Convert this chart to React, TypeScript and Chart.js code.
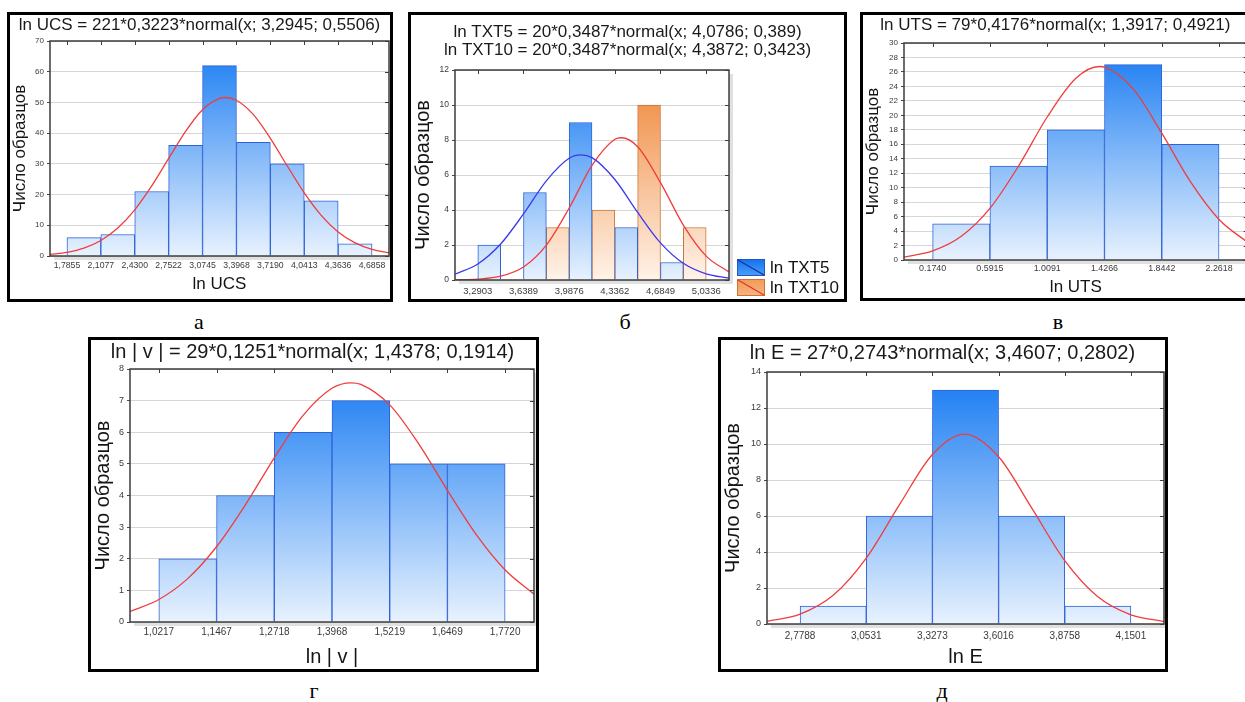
import React, { useEffect, useRef } from 'react';
import { Chart, registerables } from 'chart.js';

Chart.register(...registerables);

const SANS = "'Liberation Sans', Arial, sans-serif";
const SERIF = "'Liberation Serif', 'Times New Roman', serif";
Chart.defaults.font.family = SANS;
Chart.defaults.color = '#333';

const Y_TITLE = 'Число образцов';

// ---- Panel а : ln UCS ----
const UCS_TITLE = 'ln UCS = 221*0,3223*normal(x; 3,2945; 0,5506)';
const UCS_EDGES = [1.7855, 2.1077, 2.43, 2.7522, 3.0745, 3.3968, 3.719, 4.0413, 4.3636, 4.6858];
const UCS_TICK_LABELS = ['1,7855', '2,1077', '2,4300', '2,7522', '3,0745', '3,3968', '3,7190', '4,0413', '4,3636', '4,6858'];
const UCS_COUNTS = [6, 7, 21, 36, 62, 37, 30, 18, 4];
const UCS_CURVE_X = [1.624, 1.7855, 1.9466, 2.1077, 2.2689, 2.43, 2.5911, 2.7522, 2.9134, 3.0745, 3.2357, 3.2945, 3.3968, 3.5579, 3.719, 3.8802, 4.0413, 4.2025, 4.3636, 4.5247, 4.6858, 4.847];
const UCS_CURVE_Y = [0.52, 1.21, 2.58, 5.06, 9.1, 15.04, 22.81, 31.77, 40.61, 47.64, 51.3, 51.6, 50.72, 46.02, 38.33, 29.3, 20.57, 13.25, 7.83, 4.25, 2.12, 0.97];

// ---- Panel б : ln TXT5 / ln TXT10 ----
const TXT_TITLE = ['ln TXT5 = 20*0,3487*normal(x; 4,0786; 0,389)', 'ln TXT10 = 20*0,3487*normal(x; 4,3872; 0,3423)'];
const TXT_EDGES = [3.2903, 3.6389, 3.9876, 4.3362, 4.6849, 5.0336];
const TXT_TICK_LABELS = ['3,2903', '3,6389', '3,9876', '4,3362', '4,6849', '5,0336'];
const TXT_SERIES = ['ln TXT5', 'ln TXT10'];
const TXT5_COUNTS = [2, 5, 9, 3, 1];
const TXT10_COUNTS = [0, 3, 4, 10, 3];
const TXT5_CURVE_X = [3.1159, 3.2903, 3.4646, 3.6389, 3.8133, 3.9876, 4.0786, 4.1619, 4.3362, 4.5106, 4.6849, 4.8593, 5.0336, 5.2079];
const TXT5_CURVE_Y = [0.334, 0.918, 2.058, 3.776, 5.668, 6.959, 7.152, 6.99, 5.744, 3.861, 2.123, 0.954, 0.351, 0.106];
const TXT10_CURVE_X = [3.1159, 3.2903, 3.4646, 3.6389, 3.8133, 3.9876, 4.1619, 4.3362, 4.3872, 4.5106, 4.6849, 4.8593, 5.0336, 5.2079];
const TXT10_CURVE_Y = [0.008, 0.048, 0.215, 0.745, 1.993, 4.112, 6.545, 8.039, 8.128, 7.617, 5.568, 3.14, 1.366, 0.459];

// ---- Panel в : ln UTS ----
const UTS_TITLE = 'ln UTS = 79*0,4176*normal(x; 1,3917; 0,4921)';
const UTS_EDGES = [0.174, 0.5915, 1.0091, 1.4266, 1.8442, 2.2618];
const UTS_TICK_LABELS = ['0.1740', '0.5915', '1.0091', '1.4266', '1.8442', '2.2618'];
const UTS_COUNTS = [5, 13, 18, 27, 16];
const UTS_CURVE_X = [-0.0348, 0.174, 0.3828, 0.5915, 0.8003, 1.0091, 1.2179, 1.3917, 1.4266, 1.6354, 1.8442, 2.053, 2.2618, 2.4706];
const UTS_CURVE_Y = [0.4, 1.25, 3.27, 7.13, 12.99, 19.77, 25.13, 26.75, 26.68, 23.66, 17.53, 10.84, 5.6, 2.42];

// ---- Panel г : ln |v| ----
const V_TITLE = 'ln | v | = 29*0,1251*normal(x; 1,4378; 0,1914)';
const V_EDGES = [1.0217, 1.1467, 1.2718, 1.3968, 1.5219, 1.6469, 1.772];
const V_TICK_LABELS = ['1,0217', '1,1467', '1,2718', '1,3968', '1,5219', '1,6469', '1,7720'];
const V_COUNTS = [2, 4, 6, 7, 5, 5];
const V_CURVE_X = [0.9592, 1.0217, 1.0842, 1.1467, 1.2092, 1.2718, 1.3343, 1.3968, 1.4378, 1.4593, 1.5219, 1.5844, 1.6469, 1.7094, 1.772, 1.8345];
const V_CURVE_Y = [0.332, 0.712, 1.372, 2.379, 3.706, 5.191, 6.534, 7.39, 7.562, 7.514, 6.866, 5.64, 4.164, 2.763, 1.646, 0.883];

// ---- Panel д : ln E ----
const E_TITLE = 'ln E = 27*0,2743*normal(x; 3,4607; 0,2802)';
const E_EDGES = [2.7788, 3.0531, 3.3273, 3.6016, 3.8758, 4.1501];
const E_TICK_LABELS = ['2,7788', '3,0531', '3,3273', '3,6016', '3,8758', '4,1501'];
const E_COUNTS = [1, 6, 13, 6, 1];
const E_CURVE_X = [2.6417, 2.7788, 2.9159, 3.0531, 3.1902, 3.3273, 3.4607, 3.6016, 3.7387, 3.8758, 4.013, 4.1501, 4.2872];
const E_CURVE_Y = [0.147, 0.546, 1.592, 3.66, 6.617, 9.416, 10.545, 9.293, 6.446, 3.519, 1.511, 0.511, 0.136];

// ---- styles ----
const BLUE_TOP = '#1479f2';
const BLUE_BOTTOM = '#e8f2fe';
const BLUE_BORDER = '#2f62d6';
const ORANGE_TOP = '#ee8434';
const ORANGE_BOTTOM = '#fff3e9';
const ORANGE_BORDER = '#c9763a';
const RED_LINE = '#f03c3c';
const BLUE_LINE = '#3a3aea';

function vGradient(top: string, bottom: string) {
  return (c: any) => {
    const chart = c.chart;
    const a = chart.chartArea;
    if (!a) return top;
    const g = chart.ctx.createLinearGradient(0, a.top, 0, a.bottom);
    g.addColorStop(0, top);
    g.addColorStop(1, bottom);
    return g;
  };
}

function binPositions(edges: number[], frac: number) {
  return edges.slice(0, -1).map((e, i) => e + (edges[i + 1] - e) * frac);
}

function zip(xs: number[], ys: number[]) {
  return xs.map((x, i) => ({ x, y: ys[i] }));
}

function barSet(label: string, xs: number[], counts: number[], top: string, bottom: string, border: string) {
  return {
    type: 'bar',
    label,
    data: zip(xs, counts),
    backgroundColor: vGradient(top, bottom),
    borderColor: border,
    borderWidth: 1,
    barPercentage: 1,
    categoryPercentage: 1,
    grouped: false,
    order: 2,
  };
}

function curveSet(label: string, xs: number[], ys: number[], color: string) {
  return {
    type: 'line',
    label,
    data: zip(xs, ys),
    borderColor: color,
    borderWidth: 1.3,
    pointRadius: 0,
    cubicInterpolationMode: 'monotone',
    fill: false,
    order: 1,
  };
}

const framePlugin = {
  id: 'frame',
  beforeDraw(chart: any) {
    const { ctx, chartArea: a } = chart;
    ctx.save();
    ctx.fillStyle = '#ffffff';
    ctx.fillRect(0, 0, chart.width, chart.height);
    ctx.fillStyle = '#e0e0e0';
    ctx.fillRect(a.left + 4, a.top + 4, a.right - a.left, a.bottom - a.top);
    ctx.fillStyle = '#ffffff';
    ctx.fillRect(a.left, a.top, a.right - a.left, a.bottom - a.top);
    ctx.restore();
  },
  afterDatasetsDraw(chart: any) {
    const { ctx, chartArea: a, scales } = chart;
    ctx.save();
    ctx.strokeStyle = '#3c3c3c';
    ctx.lineWidth = 1.5;
    ctx.strokeRect(a.left, a.top, a.right - a.left, a.bottom - a.top);
    ctx.lineWidth = 1;
    ctx.beginPath();
    scales.x.ticks.forEach((_t: any, i: number) => {
      const px = Math.round(scales.x.getPixelForTick(i)) + 0.5;
      ctx.moveTo(px, a.top);
      ctx.lineTo(px, a.top + 4);
    });
    scales.y.ticks.forEach((_t: any, i: number) => {
      const py = Math.round(scales.y.getPixelForTick(i)) + 0.5;
      ctx.moveTo(a.right, py);
      ctx.lineTo(a.right - 4, py);
    });
    ctx.stroke();
    ctx.restore();
  },
};

const LEGEND_STYLES = [
  { top: '#1272ec', bottom: '#4a9ff7', border: '#2656c4', line: '#1a2ea6' },
  { top: '#f29a55', bottom: '#f7b582', border: '#c8743a', line: '#e8322e' },
];

const sideLegendPlugin = {
  id: 'sideLegend',
  afterDraw(chart: any) {
    const { ctx, chartArea: a } = chart;
    const bars = chart.data.datasets.filter((d: any) => d.type === 'bar');
    ctx.save();
    bars.forEach((d: any, i: number) => {
      const s = LEGEND_STYLES[i];
      const x = a.right + 8;
      const y = a.bottom - 21 + i * 20;
      const w = 28;
      const h = 17;
      const g = ctx.createLinearGradient(0, y, 0, y + h);
      g.addColorStop(0, s.top);
      g.addColorStop(1, s.bottom);
      ctx.fillStyle = g;
      ctx.fillRect(x, y, w, h);
      ctx.strokeStyle = s.border;
      ctx.lineWidth = 1;
      ctx.strokeRect(x + 0.5, y + 0.5, w - 1, h - 1);
      ctx.strokeStyle = s.line;
      ctx.lineWidth = 1.2;
      ctx.beginPath();
      ctx.moveTo(x + 1, y + 1);
      ctx.lineTo(x + w - 1, y + h - 1);
      ctx.stroke();
      ctx.fillStyle = '#111';
      ctx.font = `17px ${SANS}`;
      ctx.textAlign = 'left';
      ctx.textBaseline = 'middle';
      ctx.fillText(d.label, x + 33, y + h / 2 + 0.5);
    });
    ctx.restore();
  },
};

type Panel = {
  box: [number, number, number, number];
  title: string | string[];
  titleSize: number;
  titleLH: number;
  titlePad: [number, number];
  xTitle?: string;
  xTitleSize?: number;
  xTitlePad?: number;
  yTitleSize: number;
  yWidth: number;
  xHeight: number;
  padRight: number;
  xTickSize: number;
  xTickPad: number;
  yTickSize: number;
  edges: number[];
  tickLabels: string[];
  yMax: number;
  yStep: number;
  datasets: any[];
  legendWidth?: number;
};

function buildConfig(p: Panel): any {
  const w = p.edges[1] - p.edges[0];
  const xmin = p.edges[0] - w / 2;
  const xmax = p.edges[p.edges.length - 1] + w / 2;
  const scales: any = {
    x: {
      type: 'linear',
      min: xmin,
      max: xmax,
      offset: false,
      afterBuildTicks: (s: any) => {
        s.ticks = p.edges.map((v) => ({ value: v }));
      },
      afterFit: (s: any) => {
        s.height = p.xHeight;
      },
      ticks: {
        callback: (_v: any, i: number) => p.tickLabels[i],
        font: { size: p.xTickSize },
        color: '#3a3a3a',
        padding: p.xTickPad,
        maxRotation: 0,
        minRotation: 0,
        autoSkip: false,
      },
      grid: { display: false, drawTicks: false, offset: false },
      border: { display: false },
      title: p.xTitle
        ? {
            display: true,
            text: p.xTitle,
            font: { size: p.xTitleSize, lineHeight: 1.2 },
            color: '#151515',
            padding: { top: 0, bottom: p.xTitlePad },
          }
        : { display: false },
    },
    y: {
      type: 'linear',
      min: 0,
      max: p.yMax,
      afterFit: (s: any) => {
        s.width = p.yWidth;
      },
      ticks: { stepSize: p.yStep, font: { size: p.yTickSize }, color: '#3a3a3a', padding: 3 },
      grid: { color: '#d6d6d6', tickColor: '#444', tickLength: 3, drawTicks: true },
      border: { display: false },
      title: {
        display: true,
        text: Y_TITLE,
        font: { size: p.yTitleSize, lineHeight: 1.2 },
        color: '#151515',
        padding: { top: 0, bottom: 0 },
      },
    },
  };
  const plugins: any[] = [framePlugin];
  if (p.legendWidth) {
    scales.y2 = {
      type: 'linear',
      position: 'right',
      display: true,
      afterFit: (s: any) => {
        s.width = p.legendWidth;
      },
      ticks: { display: false },
      grid: { display: false, drawTicks: false },
      border: { display: false },
    };
    plugins.push(sideLegendPlugin);
  }
  return {
    type: 'bar',
    data: { datasets: p.datasets },
    options: {
      responsive: false,
      animation: false,
      devicePixelRatio: 1,
      layout: { padding: { left: 0, top: 0, right: p.padRight, bottom: 0 } },
      plugins: {
        legend: { display: false },
        tooltip: { enabled: false },
        title: {
          display: true,
          text: p.title,
          color: '#1a1a1a',
          font: { size: p.titleSize, weight: 'normal', lineHeight: p.titleLH },
          padding: { top: p.titlePad[0], bottom: p.titlePad[1] },
        },
      },
      scales,
    },
    plugins,
  };
}

const PANELS: Panel[] = [
  {
    box: [7, 12, 386, 290],
    title: UCS_TITLE,
    titleSize: 17,
    titleLH: 1.2,
    titlePad: [0, 5.6],
    xTitle: 'ln UCS',
    xTitleSize: 17,
    xTitlePad: 4,
    yTitleSize: 17,
    yWidth: 40,
    xHeight: 43,
    padRight: 1,
    xTickSize: 8.7,
    xTickPad: 4,
    yTickSize: 8,
    edges: UCS_EDGES,
    tickLabels: UCS_TICK_LABELS,
    yMax: 70,
    yStep: 10,
    datasets: [
      barSet('ln UCS', binPositions(UCS_EDGES, 0.5), UCS_COUNTS, BLUE_TOP, BLUE_BOTTOM, BLUE_BORDER),
      curveSet('normal', UCS_CURVE_X, UCS_CURVE_Y, RED_LINE),
    ],
  },
  {
    box: [408, 12, 439, 290],
    title: TXT_TITLE,
    titleSize: 17,
    titleLH: 18 / 17,
    titlePad: [8, 11],
    yTitleSize: 20,
    yWidth: 44,
    xHeight: 19,
    padRight: 0,
    xTickSize: 9.5,
    xTickPad: 5.3,
    yTickSize: 8.5,
    edges: TXT_EDGES,
    tickLabels: TXT_TICK_LABELS,
    yMax: 12,
    yStep: 2,
    legendWidth: 115,
    datasets: [
      barSet(TXT_SERIES[0], binPositions(TXT_EDGES, 0.25), TXT5_COUNTS, BLUE_TOP, BLUE_BOTTOM, BLUE_BORDER),
      barSet(TXT_SERIES[1], binPositions(TXT_EDGES, 0.75), TXT10_COUNTS, ORANGE_TOP, ORANGE_BOTTOM, ORANGE_BORDER),
      curveSet('normal TXT5', TXT5_CURVE_X, TXT5_CURVE_Y, BLUE_LINE),
      curveSet('normal TXT10', TXT10_CURVE_X, TXT10_CURVE_Y, RED_LINE),
    ],
  },
  {
    box: [860, 12, 400, 289],
    title: UTS_TITLE,
    titleSize: 17,
    titleLH: 1.2,
    titlePad: [0, 7.6],
    xTitle: 'ln UTS',
    xTitleSize: 17,
    xTitlePad: 0,
    yTitleSize: 17,
    yWidth: 41,
    xHeight: 38,
    padRight: 9.3,
    xTickSize: 8.9,
    xTickPad: 3.6,
    yTickSize: 8,
    edges: UTS_EDGES,
    tickLabels: UTS_TICK_LABELS,
    yMax: 30,
    yStep: 2,
    datasets: [
      barSet('ln UTS', binPositions(UTS_EDGES, 0.5), UTS_COUNTS, BLUE_TOP, BLUE_BOTTOM, BLUE_BORDER),
      curveSet('normal', UTS_CURVE_X, UTS_CURVE_Y, RED_LINE),
    ],
  },
  {
    box: [88, 337, 451, 335],
    title: V_TITLE,
    titleSize: 20,
    titleLH: 1.2,
    titlePad: [0, 5],
    xTitle: 'ln | v |',
    xTitleSize: 20,
    xTitlePad: 0,
    yTitleSize: 20,
    yWidth: 39,
    xHeight: 47,
    padRight: 2,
    xTickSize: 10,
    xTickPad: 4,
    yTickSize: 9,
    edges: V_EDGES,
    tickLabels: V_TICK_LABELS,
    yMax: 8,
    yStep: 1,
    datasets: [
      barSet('ln | v |', binPositions(V_EDGES, 0.5), V_COUNTS, BLUE_TOP, BLUE_BOTTOM, BLUE_BORDER),
      curveSet('normal', V_CURVE_X, V_CURVE_Y, RED_LINE),
    ],
  },
  {
    box: [718, 337, 450, 335],
    title: E_TITLE,
    titleSize: 20,
    titleLH: 1.2,
    titlePad: [1, 7],
    xTitle: 'ln E',
    xTitleSize: 20,
    xTitlePad: 0,
    yTitleSize: 20,
    yWidth: 46,
    xHeight: 45,
    padRight: 1,
    xTickSize: 10,
    xTickPad: 6,
    yTickSize: 9,
    edges: E_EDGES,
    tickLabels: E_TICK_LABELS,
    yMax: 14,
    yStep: 2,
    datasets: [
      barSet('ln E', binPositions(E_EDGES, 0.5), E_COUNTS, BLUE_TOP, BLUE_BOTTOM, BLUE_BORDER),
      curveSet('normal', E_CURVE_X, E_CURVE_Y, RED_LINE),
    ],
  },
];

const CAPTIONS: { text: string; x: number; y: number }[] = [
  { text: 'а', x: 199, y: 322 },
  { text: 'б', x: 625, y: 322 },
  { text: 'в', x: 1058, y: 322 },
  { text: 'г', x: 314, y: 691 },
  { text: 'д', x: 942, y: 691 },
];

function HistPanel({ p }: { p: Panel }) {
  const ref = useRef<HTMLCanvasElement>(null);
  useEffect(() => {
    if (!ref.current) return;
    const chart = new Chart(ref.current, buildConfig(p));
    return () => chart.destroy();
  }, [p]);
  const [l, t, w, h] = p.box;
  return (
    <div
      style={{
        position: 'absolute',
        left: l,
        top: t,
        width: w,
        height: h,
        border: '3px solid #000',
        boxSizing: 'border-box',
        background: '#fff',
      }}
    >
      <canvas ref={ref} width={w - 6} height={h - 6} style={{ display: 'block' }} />
    </div>
  );
}

export default function App() {
  return (
    <div
      style={{
        position: 'fixed',
        left: 0,
        top: 0,
        width: 1245,
        height: 702,
        overflow: 'hidden',
        background: '#fff',
      }}
    >
      {PANELS.map((p, i) => (
        <HistPanel key={i} p={p} />
      ))}
      {CAPTIONS.map((c) => (
        <div
          key={c.text}
          style={{
            position: 'absolute',
            left: c.x,
            top: c.y,
            transform: 'translate(-50%, -50%)',
            fontFamily: SERIF,
            fontSize: 22,
            lineHeight: 1,
            color: '#000',
          }}
        >
          {c.text}
        </div>
      ))}
    </div>
  );
}
